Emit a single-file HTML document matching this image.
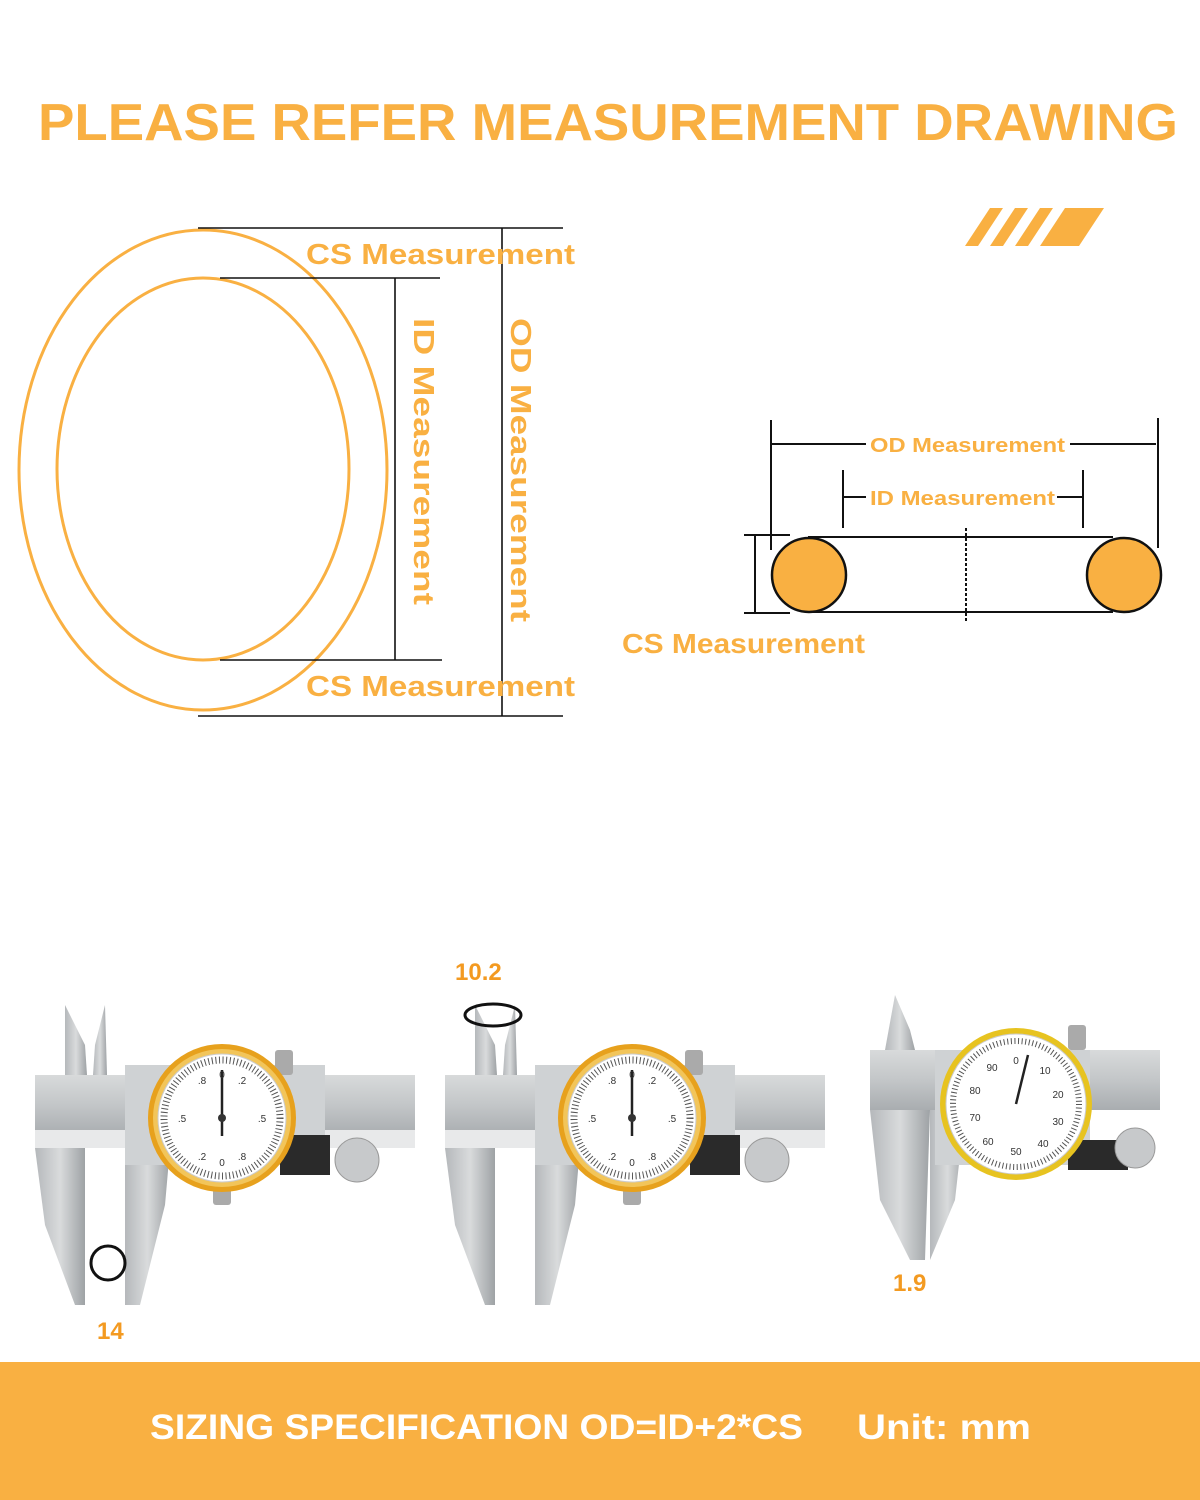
<!DOCTYPE html>
<html><head><meta charset="utf-8"><style>
body{margin:0;background:#fff;}
svg{display:block;font-family:"Liberation Sans","DejaVu Sans",sans-serif;}
</style></head><body>
<svg width="1200" height="1500" viewBox="0 0 1200 1500" xmlns="http://www.w3.org/2000/svg">
<defs>
<linearGradient id="steel" x1="0" y1="0" x2="0" y2="1"><stop offset="0" stop-color="#d8dadb"/><stop offset="0.5" stop-color="#c3c6c8"/><stop offset="1" stop-color="#a9adb0"/></linearGradient>
<linearGradient id="jaw" x1="0" y1="0" x2="1" y2="0"><stop offset="0" stop-color="#b5b8bb"/><stop offset="0.5" stop-color="#d9dbdc"/><stop offset="1" stop-color="#9ea2a5"/></linearGradient>
<g id="dial">
<circle r="74" fill="#e7a11d"/><circle r="69" fill="#f2c55a"/><circle r="64" fill="#fff" stroke="#ccc"/>
<circle r="58" fill="none" stroke="#555" stroke-width="7" stroke-dasharray="1 2.6"/>
<line x1="0" y1="0" x2="0" y2="-48" stroke="#222" stroke-width="2.5"/><line x1="0" y1="0" x2="0" y2="18" stroke="#222" stroke-width="2.5"/><circle r="4" fill="#333"/>
<g font-size="10" fill="#333" text-anchor="middle"><text x="0" y="-40">0</text><text x="0" y="48">0</text><text x="-40" y="4">.5</text><text x="40" y="4">.5</text><text x="20" y="-34">.2</text><text x="-20" y="-34">.8</text><text x="20" y="42">.8</text><text x="-20" y="42">.2</text></g>
</g>
<g id="cal">
<rect x="0" y="70" width="380" height="60" fill="url(#steel)"/>
<rect x="0" y="125" width="380" height="18" fill="#e8e9ea"/>
<polygon points="30,0 50,40 52,70 30,70" fill="url(#jaw)"/>
<polygon points="70,0 60,40 58,70 72,70" fill="url(#jaw)"/>
<polygon points="0,143 50,143 50,300 40,300 10,220" fill="url(#jaw)"/>
<polygon points="90,143 135,143 130,200 105,300 90,300" fill="url(#jaw)"/>
<rect x="90" y="60" width="200" height="100" fill="#cfd2d4"/>
<rect x="245" y="130" width="50" height="40" fill="#2a2a2a"/>
<circle cx="322" cy="155" r="22" fill="#c7c9cb" stroke="#999"/>
<rect x="240" y="45" width="18" height="25" fill="#aaa" rx="3"/>
<rect x="178" y="178" width="18" height="22" fill="#aaa" rx="3"/>
<use href="#dial" x="187" y="113"/>
</g>
</defs>

<text x="38" y="140" font-size="52" font-weight="bold" fill="#f9b042" textLength="1140" lengthAdjust="spacingAndGlyphs">PLEASE REFER MEASUREMENT DRAWING</text>

<g fill="#f9b042">
<polygon points="965,246 990,208 1003,208 978,246"/>
<polygon points="990,246 1015,208 1028,208 1003,246"/>
<polygon points="1015,246 1040,208 1053,208 1028,246"/>
<polygon points="1040,246 1065,208 1104,208 1079,246"/>
</g>

<ellipse cx="203" cy="470" rx="184" ry="240" fill="none" stroke="#f9b042" stroke-width="3"/>
<ellipse cx="203" cy="469" rx="146" ry="191" fill="none" stroke="#f9b042" stroke-width="3"/>
<g stroke="#111" stroke-width="1.6">
<line x1="198" y1="228" x2="563" y2="228"/><line x1="220" y1="278" x2="440" y2="278"/>
<line x1="220" y1="660" x2="442" y2="660"/><line x1="198" y1="716" x2="563" y2="716"/>
<line x1="395" y1="278" x2="395" y2="660"/><line x1="502" y1="228" x2="502" y2="716"/>
</g>
<g font-size="29" font-weight="bold" fill="#f9b042">
<text x="306" y="264" textLength="269" lengthAdjust="spacingAndGlyphs">CS Measurement</text>
<text x="306" y="696" textLength="269" lengthAdjust="spacingAndGlyphs">CS Measurement</text>
<text transform="translate(414,318) rotate(90)" textLength="287" lengthAdjust="spacingAndGlyphs">ID Measurement</text>
<text transform="translate(511,318) rotate(90)" textLength="304" lengthAdjust="spacingAndGlyphs">OD Measurement</text>
</g>

<g stroke="#111" stroke-width="2">
<line x1="771" y1="420" x2="771" y2="550"/><line x1="1158" y1="418" x2="1158" y2="548"/>
<line x1="771" y1="444" x2="866" y2="444"/><line x1="1070" y1="444" x2="1156" y2="444"/>
<line x1="843" y1="470" x2="843" y2="528"/><line x1="1083" y1="470" x2="1083" y2="528"/>
<line x1="843" y1="497" x2="866" y2="497"/><line x1="1057" y1="497" x2="1082" y2="497"/>
<line x1="808" y1="537" x2="1113" y2="537"/><line x1="808" y1="612" x2="1113" y2="612"/>
<line x1="744" y1="535" x2="790" y2="535"/><line x1="744" y1="613" x2="790" y2="613"/>
<line x1="755" y1="535" x2="755" y2="613"/>
<line x1="966" y1="528" x2="966" y2="622" stroke-dasharray="3 2"/>
</g>
<circle cx="809" cy="575" r="37" fill="#f9b042" stroke="#111" stroke-width="2.5"/>
<circle cx="1124" cy="575" r="37" fill="#f9b042" stroke="#111" stroke-width="2.5"/>
<g font-size="20" font-weight="bold" fill="#f9b042">
<text x="870" y="452" textLength="195" lengthAdjust="spacingAndGlyphs">OD Measurement</text>
<text x="870" y="505" textLength="185" lengthAdjust="spacingAndGlyphs">ID Measurement</text>
<text x="622" y="653" font-size="28" textLength="243" lengthAdjust="spacingAndGlyphs">CS Measurement</text>
</g>

<use href="#cal" x="35" y="1005"/>
<use href="#cal" x="445" y="1005"/>
<circle cx="108" cy="1263" r="17" fill="none" stroke="#111" stroke-width="3"/>
<ellipse cx="493" cy="1015" rx="28" ry="11" fill="none" stroke="#111" stroke-width="3"/>
<g>
<rect x="870" y="1050" width="290" height="60" fill="url(#steel)"/>
<polygon points="885,1050 895,995 910,1030 915,1050" fill="url(#jaw)"/>
<polygon points="870,1110 930,1110 925,1260 910,1260 880,1200" fill="url(#jaw)"/>
<polygon points="930,1110 965,1110 955,1200 930,1260" fill="url(#jaw)"/>
<rect x="935" y="1050" width="155" height="115" fill="#cfd2d4"/>
<rect x="1068" y="1140" width="60" height="30" fill="#2a2a2a"/>
<circle cx="1135" cy="1148" r="20" fill="#c7c9cb" stroke="#999"/>
<rect x="1068" y="1025" width="18" height="25" fill="#aaa" rx="3"/>
<circle cx="1016" cy="1104" r="76" fill="#e7c320"/><circle cx="1016" cy="1104" r="70" fill="#fff" stroke="#ccc"/>
<circle cx="1016" cy="1104" r="63" fill="none" stroke="#555" stroke-width="6" stroke-dasharray="1 2.6"/>
<line x1="1016" y1="1104" x2="1028" y2="1055" stroke="#222" stroke-width="2.5"/>
<g font-size="10" fill="#333" text-anchor="middle"><text x="1016" y="1064">0</text><text x="1045" y="1074">10</text><text x="1058" y="1098">20</text><text x="1058" y="1125">30</text><text x="1043" y="1147">40</text><text x="1016" y="1155">50</text><text x="988" y="1145">60</text><text x="975" y="1121">70</text><text x="975" y="1094">80</text><text x="992" y="1071">90</text></g>
</g>
<g font-size="24" font-weight="bold" fill="#f39a21">
<text x="455" y="980">10.2</text>
<text x="97" y="1339">14</text>
<text x="893" y="1291">1.9</text>
</g>

<rect x="0" y="1362" width="1200" height="138" fill="#f9b042"/>
<text x="150" y="1439" font-size="35" font-weight="bold" fill="#fff" textLength="653" lengthAdjust="spacingAndGlyphs">SIZING SPECIFICATION OD=ID+2*CS</text>
<text x="857" y="1439" font-size="35" font-weight="bold" fill="#fff" textLength="174" lengthAdjust="spacingAndGlyphs">Unit: mm</text>
</svg>
</body></html>
